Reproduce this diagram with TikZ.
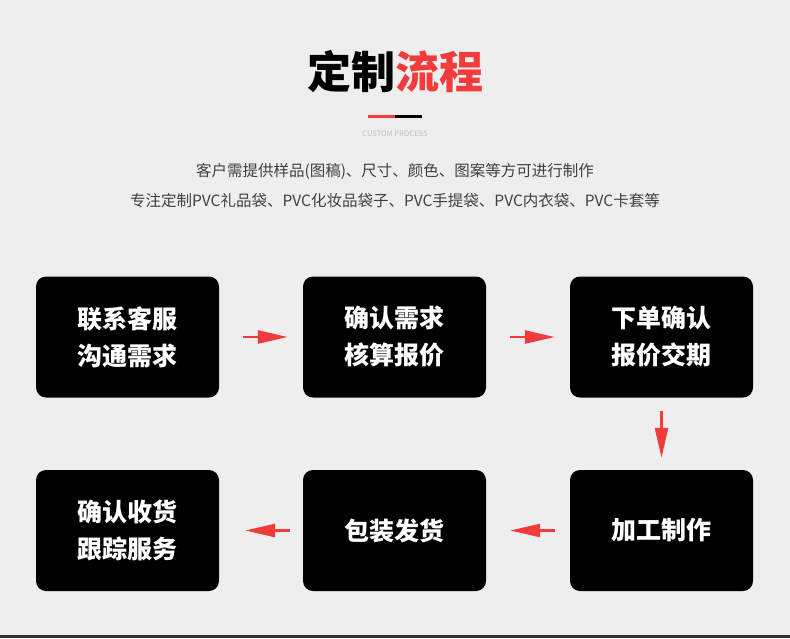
\documentclass[tikz,border=0pt]{standalone}
\usepackage{fontspec}
\setmainfont{Noto Sans CJK SC}
\usetikzlibrary{arrows.meta}
\definecolor{bg}{HTML}{EEEEEE}
\definecolor{myred}{HTML}{F23B3B}
\tikzset{
  stepbox/.style={fill=black,rounded corners=10pt,minimum width=183pt,minimum height=121pt,inner sep=0pt,text=white,font=\fontsize{25}{37}\selectfont\bfseries,align=center},
  flow/.style={draw=myred,line width=2.5pt,-{Triangle[length=30pt,width=13pt]}}
}
\begin{document}
\begin{tikzpicture}[x=1pt,y=-1pt]
\fill[bg] (0,0) rectangle (790,638);
\fill[black!80] (0,635) rectangle (790,638);
\useasboundingbox (0,0) rectangle (790,638);
\node (title) at (395,72) {\fontsize{44}{50}\selectfont\bfseries 定制\textcolor{myred}{流程}};
\fill[myred] (368,114.5) rectangle (395,117.5);
\fill[black] (395,114.5) rectangle (422,117.5);
\node[text=black!25,font=\fontsize{7.5}{9}\selectfont] (sub) at (395,134) {CUSTOM PROCESS};
\node[text=black!75,font=\fontsize{15.5}{18}\selectfont] (l1) at (395,171) {客户需提供样品(图稿)、尺寸、颜色、图案等方可进行制作};
\node[text=black!75,font=\fontsize{15.5}{18}\selectfont] (l2) at (395,201) {专注定制PVC礼品袋、PVC化妆品袋子、PVC手提袋、PVC内衣袋、PVC卡套等};
\node[stepbox] (b1) at (127.5,337) {联系客服\\沟通需求};
\node[stepbox] (b2) at (394.5,337) {确认需求\\核算报价};
\node[stepbox] (b3) at (661.5,337) {下单确认\\报价交期};
\node[stepbox] (b4) at (127.5,530.5) {确认收货\\跟踪服务};
\node[stepbox] (b5) at (394.5,530.5) {包装发货};
\node[stepbox] (b6) at (661.5,530.5) {加工制作};
\draw[flow,shorten <=24pt,shorten >=15pt] (b1.east) -- (b2.west);
\draw[flow,shorten <=24pt,shorten >=15pt] (b2.east) -- (b3.west);
\draw[flow,shorten <=13pt,shorten >=12pt] (b3.south) -- (b6.north);
\draw[flow,shorten <=15pt,shorten >=24pt] (b6.west) -- (b5.east);
\draw[flow,shorten <=13pt,shorten >=26pt] (b5.west) -- (b4.east);
\end{tikzpicture}
\end{document}
